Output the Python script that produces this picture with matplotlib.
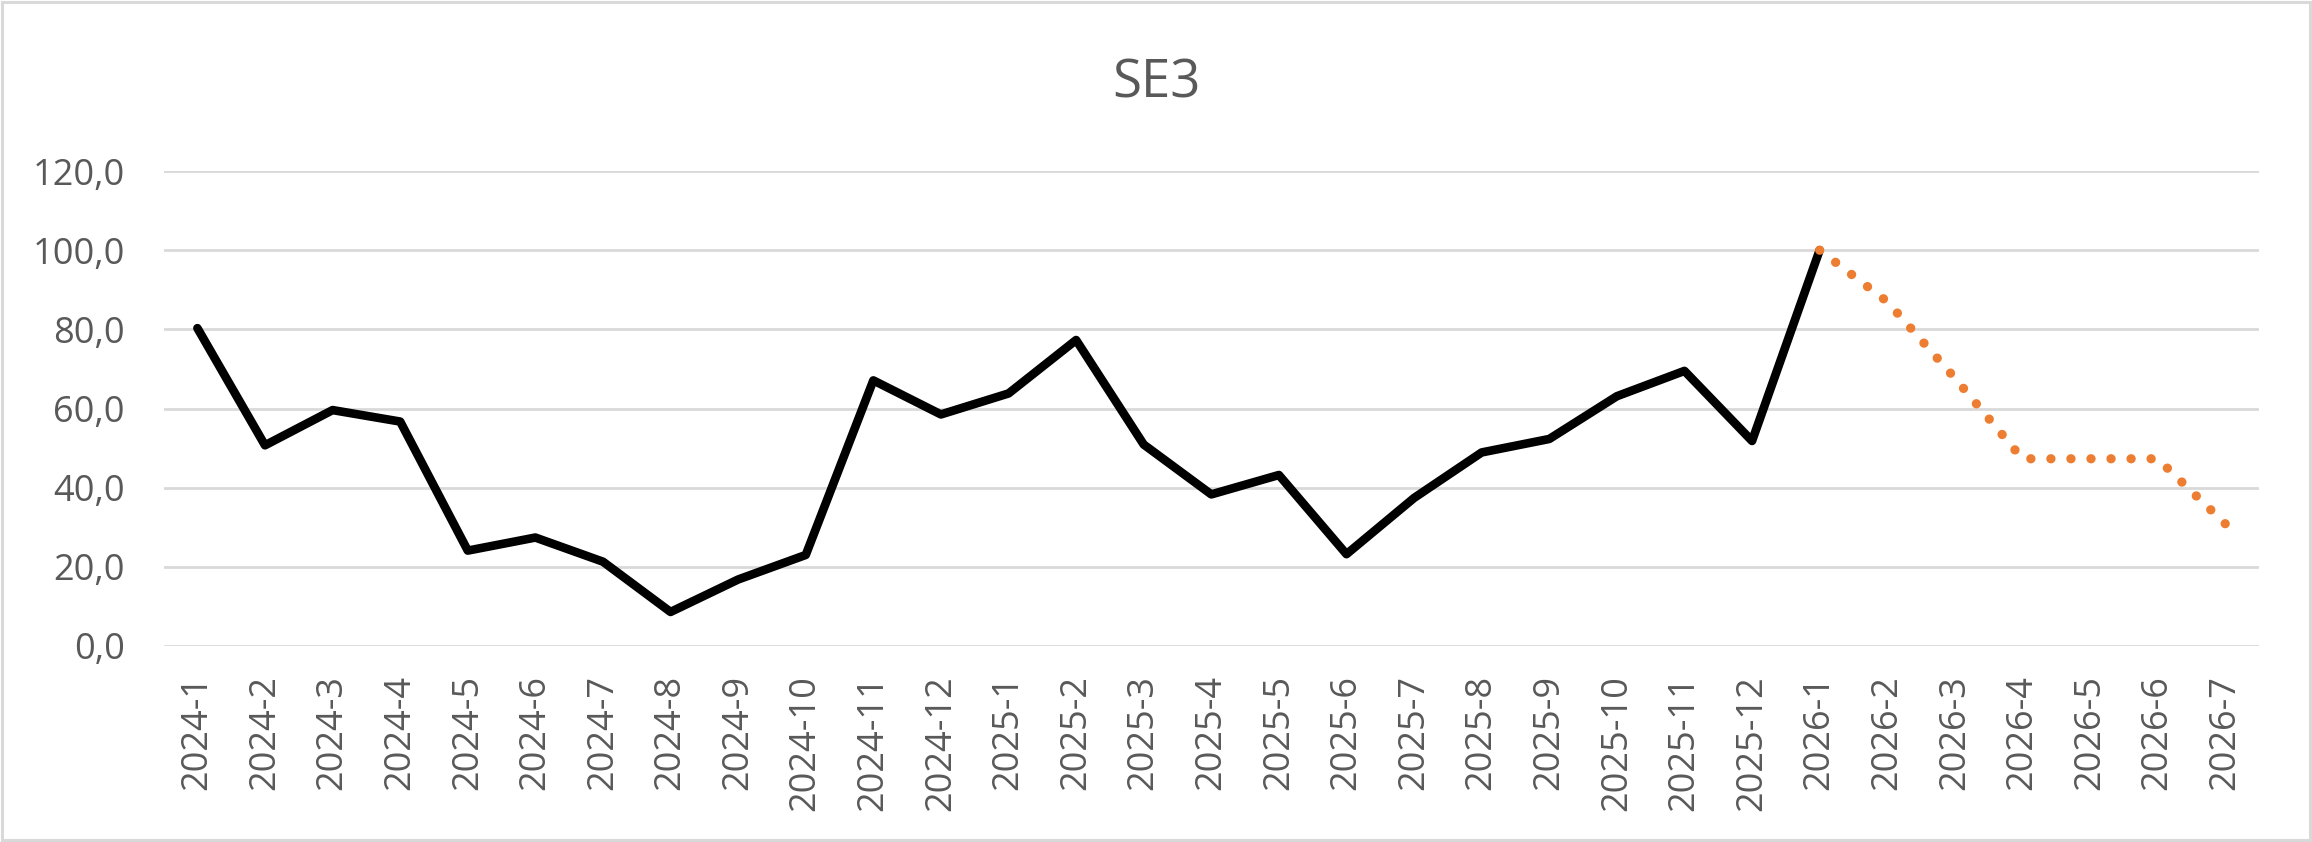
import matplotlib
matplotlib.use("Agg")
import matplotlib.pyplot as plt
from matplotlib.patches import Rectangle
from matplotlib.ticker import FuncFormatter, MultipleLocator

# ---- data ----
months = ["2024-1", "2024-2", "2024-3", "2024-4", "2024-5", "2024-6", "2024-7",
          "2024-8", "2024-9", "2024-10", "2024-11", "2024-12",
          "2025-1", "2025-2", "2025-3", "2025-4", "2025-5", "2025-6", "2025-7",
          "2025-8", "2025-9", "2025-10", "2025-11", "2025-12",
          "2026-1", "2026-2", "2026-3", "2026-4", "2026-5", "2026-6", "2026-7"]

actual_months = months[:25]
actual_values = [80.3, 50.7, 59.6, 56.7, 24.1, 27.4, 21.3, 8.6, 16.8, 23.0,
                 67.1, 58.5, 63.8, 77.3, 50.9, 38.3, 43.2, 23.2, 37.4, 48.9,
                 52.3, 63.1, 69.5, 51.8, 100.0]

forecast_months = ["2026-1", "2026-2", "2026-3", "2026-4", "2026-5", "2026-6", "2026-7"]
forecast_values = [100.0, 87.0, 67.7, 47.3, 47.3, 47.3, 30.9]

title = "SE3"

# ---- style ----
plt.rcParams['font.family'] = ['Open Sans', 'DejaVu Sans']
TXT = '#595959'
GRID = '#d9d9d9'

W, H = 2312, 842
fig = plt.figure(figsize=(W / 100, H / 100), dpi=100)
ax = fig.add_axes([163.6 / W, 1 - 646 / H, (2259 - 163.6) / W, (646 - 171) / H])

xpos = {m: i for i, m in enumerate(months)}
ax.plot([xpos[m] for m in actual_months], actual_values, color='black',
        lw=6.2, solid_joinstyle='round', solid_capstyle='round', zorder=3)
ax.plot([xpos[m] for m in forecast_months], forecast_values, color='#ED7D31',
        lw=6.7, linestyle=(0, (0.01, 2.144)), dash_capstyle='round', zorder=4)

ax.set_xlim(-0.5, len(months) - 0.5)
ax.set_ylim(0, 120)
ax.yaxis.set_major_locator(MultipleLocator(20))
ax.yaxis.set_major_formatter(FuncFormatter(lambda v, p: f"{v:.1f}".replace('.', ',')))
ax.set_xticks(range(len(months)))
ax.set_xticklabels(months, rotation=90)

ax.grid(axis='y', color=GRID, lw=2.0, zorder=0)
ax.set_axisbelow(True)
for s in ax.spines.values():
    s.set_visible(False)
ax.tick_params(axis='both', length=0, colors=TXT, labelsize=26)
ax.tick_params(axis='y', pad=28)
ax.tick_params(axis='x', pad=21)

fig.text(0.5, 1 - 97 / H, title, ha='center', va='baseline', fontsize=38, color=TXT)

fig.patches.append(Rectangle((0.0008, 0.0018), 0.9984, 0.9964, transform=fig.transFigure,
                             fill=False, edgecolor=GRID, lw=2.2))

fig.savefig("out.png", dpi=100, facecolor='white')
